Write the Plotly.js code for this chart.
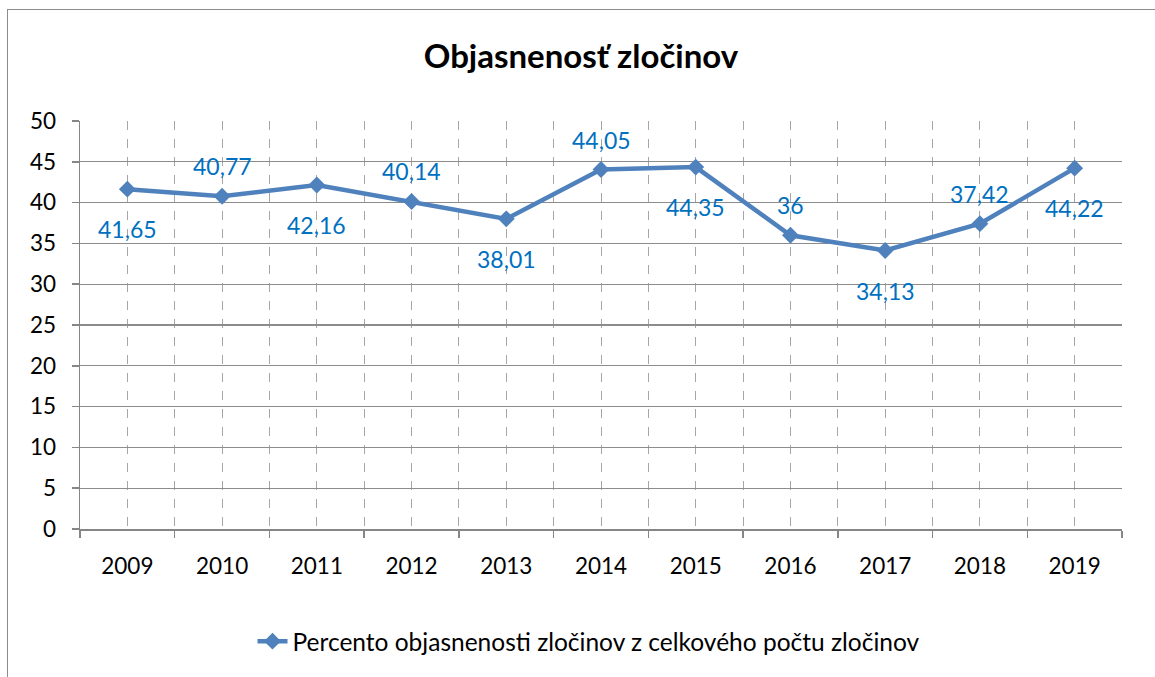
<!DOCTYPE html>
<html>
<head>
<meta charset="utf-8">
<script src="https://cdn.plot.ly/plotly-3.0.1.min.js"></script>
<style>
  html, body { margin: 0; padding: 0; background: #fff; overflow: hidden; }
  #wrap { position: relative; width: 1155px; height: 677px; }
  #chart { width: 1155px; height: 677px; }
  #frame { position: absolute; left: 7px; top: 9px; width: 1300px; height: 900px;
           border-left: 1.5px solid #8c8c8c; border-top: 1.5px solid #8c8c8c;
           pointer-events: none; }
</style>
</head>
<body>
<div id="wrap">
  <div id="chart"></div>
  <div id="frame"></div>
</div>
<script>
const years = [2009, 2010, 2011, 2012, 2013, 2014, 2015, 2016, 2017, 2018, 2019];
const values = [41.65, 40.77, 42.16, 40.14, 38.01, 44.05, 44.35, 36, 34.13, 37.42, 44.22];
const labels = ["41,65", "40,77", "42,16", "40,14", "38,01", "44,05", "44,35", "36", "34,13", "37,42", "44,22"];
const yTicks = [0, 5, 10, 15, 20, 25, 30, 35, 40, 45, 50];
const seriesName = "Percento objasnenosti zločinov z celkového počtu zločinov";
const chartTitle = "Objasnenosť zločinov";

const FONT = "Lato, 'Open Sans', sans-serif";
const boundaries = [years[0] - 0.5].concat(years.map(y => y + 0.5));

const trace = {
  x: years,
  y: values,
  type: "scatter",
  mode: "lines+markers",
  name: seriesName,
  line: { color: "#4F81BD", width: 4.5 },
  marker: { symbol: "diamond", size: 13, color: "#4F81BD" },
  hoverinfo: "skip"
};

const annotations = years.map((yr, i) => ({
  x: yr,
  y: values[i],
  xref: "x",
  yref: "y",
  text: labels[i],
  showarrow: false,
  yshift: (i % 2 === 0) ? -40 : 30,
  font: { family: FONT, size: 23, color: "#0070C0" }
}));

const layout = {
  width: 1155,
  height: 677,
  margin: { l: 80, r: 33, t: 121, b: 148 },
  paper_bgcolor: "rgba(0,0,0,0)",
  plot_bgcolor: "#ffffff",
  showlegend: true,
  title: {
    text: "<b>" + chartTitle + "</b>",
    font: { family: FONT, size: 33, color: "#000000" },
    x: 0.503,
    xanchor: "center",
    y: 0.916,
    yanchor: "middle"
  },
  xaxis: {
    range: [years[0] - 0.5, years[years.length - 1] + 0.5],
    tickmode: "array",
    tickvals: years,
    ticktext: years.map(String),
    ticks: "",
    ticklabelstandoff: 16,
    showgrid: true,
    gridcolor: "#a6a6a6",
    gridwidth: 1,
    griddash: "dash",
    showline: true,
    linecolor: "#868686",
    linewidth: 1.5,
    zeroline: false,
    tickfont: { family: FONT, size: 22.5, color: "#000000" },
    minor: {
      tickmode: "array",
      tickvals: boundaries,
      ticks: "outside",
      ticklen: 7,
      tickwidth: 1.5,
      tickcolor: "#868686",
      showgrid: true,
      gridcolor: "#a6a6a6",
      gridwidth: 1,
      griddash: "dash"
    },
    fixedrange: true
  },
  yaxis: {
    range: [0, 50],
    tickmode: "array",
    tickvals: yTicks,
    ticktext: yTicks.map(String),
    ticks: "outside",
    ticklen: 7,
    tickwidth: 1.5,
    tickcolor: "#868686",
    ticklabelstandoff: 11,
    showgrid: true,
    gridcolor: "#8c8c8c",
    gridwidth: 1.3,
    showline: true,
    linecolor: "#868686",
    linewidth: 1.5,
    zeroline: false,
    tickfont: { family: FONT, size: 22.5, color: "#000000" },
    fixedrange: true
  },
  legend: {
    orientation: "h",
    x: 0.488,
    xanchor: "center",
    y: -0.275,
    yanchor: "middle",
    font: { family: FONT, size: 24.5, color: "#000000" },
    bgcolor: "rgba(0,0,0,0)"
  },
  annotations: annotations
};

Plotly.newPlot("chart", [trace], layout, { displayModeBar: false, staticPlot: true });
</script>
</body>
</html>
